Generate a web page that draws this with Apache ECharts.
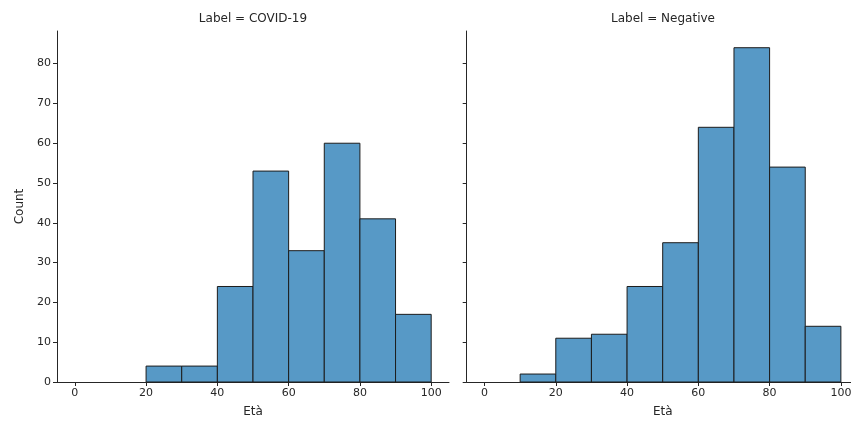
<!DOCTYPE html>
<html>
<head>
<meta charset="utf-8">
<script src="https://cdn.jsdelivr.net/npm/echarts@6/dist/echarts.min.js"></script>
<style>
  html, body { margin: 0; padding: 0; background: #fff; overflow: hidden; }
  /* the original figure is wider than the picture and gets cut at the right */
  #chart { width: 862px; height: 423px; }
</style>
</head>
<body>
<div id="chart"></div>
<script>
// histogram bins (Età), shared by both facets
const binEdges = [10, 20, 30, 40, 50, 60, 70, 80, 90, 100];
const covidCounts = [0, 4, 4, 24, 53, 33, 60, 41, 17];
const negativeCounts = [2, 11, 12, 24, 35, 64, 84, 54, 14];
const facetTitles = ["Label = COVID-19", "Label = Negative"];
const xTicks = [0, 20, 40, 60, 80, 100];
const yTicks = [0, 10, 20, 30, 40, 50, 60, 70, 80];

const FONT = "DejaVu Sans";
const INK = "#262626";

const toBins = (counts) =>
  counts
    .map((c, i) => [binEdges[i], binEdges[i + 1], c])
    .filter((d) => d[2] > 0);

const renderBar = (params, api) => {
  const p0 = api.coord([api.value(0), api.value(2)]);
  const p1 = api.coord([api.value(1), 0]);
  return {
    type: "rect",
    shape: { x: p0[0], y: p0[1], width: p1[0] - p0[0], height: p1[1] - p0[1] },
    style: { fill: "#5799c6", stroke: "#1c1c1c", lineWidth: 1 },
  };
};

const xAxisFor = (idx) => ({
  type: "value",
  gridIndex: idx,
  min: -5,
  max: 105,
  name: "Età",
  nameLocation: "middle",
  nameGap: 24,
  nameTextStyle: { fontFamily: FONT, fontSize: 12, color: INK },
  axisLine: { show: true, onZero: false, lineStyle: { color: INK, width: 1 } },
  axisTick: { show: true, length: 4, customValues: xTicks, lineStyle: { color: INK } },
  axisLabel: { customValues: xTicks, fontFamily: FONT, fontSize: 11, color: INK, margin: 6 },
  splitLine: { show: false },
});

const yAxisFor = (idx) => ({
  type: "value",
  gridIndex: idx,
  min: 0,
  max: 88.2,
  name: idx === 0 ? "Count" : "",
  nameLocation: "middle",
  nameRotate: 90,
  nameGap: 31,
  nameTextStyle: { fontFamily: FONT, fontSize: 12, color: INK },
  axisLine: { show: true, onZero: false, lineStyle: { color: INK, width: 1 } },
  axisTick: { show: true, length: 4, customValues: yTicks, lineStyle: { color: INK } },
  axisLabel: {
    show: idx === 0,
    customValues: yTicks,
    fontFamily: FONT,
    fontSize: 11,
    color: INK,
    margin: 6,
  },
  splitLine: { show: false },
});

const myChart = echarts.init(document.getElementById("chart"), null, { renderer: "canvas" });

myChart.setOption({
  animation: false,
  backgroundColor: "#fff",
  grid: [
    { left: 57, width: 392, top: 31, bottom: 36.3 },
    { left: 466.7, width: 392, top: 31, bottom: 36.3 },
  ],
  graphic: [
    {
      type: "text",
      x: 253,
      y: 19,
      style: { text: facetTitles[0], font: "12px " + FONT, fill: INK, align: "center", verticalAlign: "middle" },
    },
    {
      type: "text",
      x: 663,
      y: 19,
      style: { text: facetTitles[1], font: "12px " + FONT, fill: INK, align: "center", verticalAlign: "middle" },
    },
  ],
  xAxis: [xAxisFor(0), xAxisFor(1)],
  yAxis: [yAxisFor(0), yAxisFor(1)],
  series: [
    {
      type: "custom",
      xAxisIndex: 0,
      yAxisIndex: 0,
      data: toBins(covidCounts),
      renderItem: renderBar,
    },
    {
      type: "custom",
      xAxisIndex: 1,
      yAxisIndex: 1,
      data: toBins(negativeCounts),
      renderItem: renderBar,
    },
  ],
});
</script>
</body>
</html>
